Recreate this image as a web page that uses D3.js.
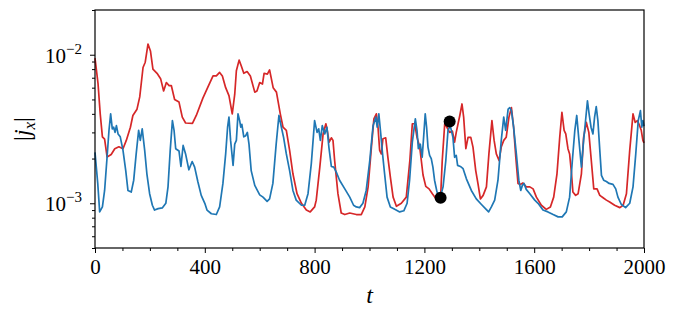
<!DOCTYPE html>
<meta charset="utf-8">
<script src="https://d3js.org/d3.v7.min.js"></script>
<style>
body { margin: 0; background: #fff; }
.spine { fill: none; stroke: #000; stroke-width: 1.2px; }
.tick line { stroke: #000; stroke-width: 1px; }
.series { fill: none; stroke-width: 1.7px; stroke-linejoin: round; }
</style>
<body>
<script>

// [t, |j_x|]
var redSeries = [[0,9.5e-3],[11,6.4e-3],[19,4.0e-3],[27,2.8e-3],[35,2.7e-3],[44,2.05e-3],[59,2.13e-3],[72,2.33e-3],[87,2.4e-3],[102,2.33e-3],[114,2.65e-3],[129,3.25e-3],[138,3.9e-3],[153,4.3e-3],[163,5.2e-3],[175,8.2e-3],[183,8.9e-3],[193,1.18e-2],[202,1.06e-2],[211,8.0e-3],[226,7.5e-3],[239,6.9e-3],[250,5.7e-3],[260,6.5e-3],[270,6.2e-3],[278,6.2e-3],[290,5.0e-3],[306,4.8e-3],[318,3.8e-3],[330,3.47e-3],[355,3.45e-3],[369,3.9e-3],[393,5.1e-3],[412,6.1e-3],[430,7.2e-3],[442,7.2e-3],[454,7.6e-3],[464,7.2e-3],[476,6.0e-3],[488,5.3e-3],[500,4.0e-3],[509,5.4e-3],[515,7.8e-3],[525,9.2e-3],[533,8.4e-3],[542,7.5e-3],[554,7.7e-3],[566,7.2e-3],[582,5.6e-3],[590,5.7e-3],[600,6.5e-3],[610,6.35e-3],[616,7.5e-3],[628,7.4e-3],[636,7.9e-3],[649,6.0e-3],[661,5.6e-3],[675,4.0e-3],[685,3.25e-3],[697,3.1e-3],[709,2.27e-3],[721,1.58e-3],[736,1.16e-3],[752,1.0e-3],[770,9.0e-4],[784,8.75e-4],[800,9.45e-4],[806,1.05e-3],[819,1.75e-3],[831,2.93e-3],[841,3.43e-3],[846,3.1e-3],[853,2.58e-3],[861,2.76e-3],[867,2.65e-3],[873,1.94e-3],[885,1.16e-3],[897,8.6e-4],[910,8.4e-4],[928,8.6e-4],[952,8.4e-4],[970,8.4e-4],[983,9.45e-4],[995,1.29e-3],[1007,2.39e-3],[1016,3.7e-3],[1025,4.0e-3],[1031,3.25e-3],[1037,2.27e-3],[1043,2.15e-3],[1049,2.72e-3],[1059,2.76e-3],[1067,2.04e-3],[1076,1.5e-3],[1086,1.1e-3],[1098,9.55e-4],[1116,1.0e-3],[1134,1.1e-3],[1147,1.94e-3],[1156,3.43e-3],[1165,3.43e-3],[1173,2.78e-3],[1183,2.39e-3],[1195,1.55e-3],[1205,1.3e-3],[1217,1.25e-3],[1229,1.16e-3],[1243,1.07e-3],[1259,1.09e-3],[1265,1.94e-3],[1274,3.43e-3],[1282,3.25e-3],[1292,3.0e-3],[1302,3.06e-3],[1310,2.58e-3],[1316,3.0e-3],[1329,3.9e-3],[1337,4.66e-3],[1343,3.8e-3],[1351,2.33e-3],[1359,2.78e-3],[1369,2.78e-3],[1377,2.39e-3],[1387,1.66e-3],[1395,1.36e-3],[1404,1.07e-3],[1414,1.13e-3],[1426,1.29e-3],[1435,2.15e-3],[1446,3.6e-3],[1454,2.65e-3],[1462,2.15e-3],[1472,1.94e-3],[1480,2.39e-3],[1489,2.65e-3],[1498,2.78e-3],[1508,3.8e-3],[1517,4.4e-3],[1525,3.25e-3],[1533,2.04e-3],[1541,1.36e-3],[1549,1.34e-3],[1559,1.37e-3],[1571,1.29e-3],[1584,1.29e-3],[1596,1.25e-3],[1608,1.1e-3],[1626,9.7e-4],[1644,9.1e-4],[1659,9.45e-4],[1671,1.1e-3],[1683,1.58e-3],[1693,2.78e-3],[1701,4.1e-3],[1709,3.1e-3],[1715,2.93e-3],[1723,2.33e-3],[1729,2.15e-3],[1735,1.66e-3],[1741,1.19e-3],[1751,1.13e-3],[1760,1.16e-3],[1772,1.58e-3],[1780,2.78e-3],[1790,3.5e-3],[1799,3.0e-3],[1808,1.94e-3],[1817,1.25e-3],[1829,1.25e-3],[1839,1.13e-3],[1851,1.09e-3],[1863,1.05e-3],[1875,1.02e-3],[1893,9.7e-4],[1912,9.35e-4],[1924,9.7e-4],[1936,1.16e-3],[1948,2.27e-3],[1960,4.0e-3],[1968,3.5e-3],[1976,3.6e-3],[1984,3.33e-3],[1990,3.1e-3],[1996,2.65e-3],[2000,2.55e-3]];

var blueSeries = [[0,2.2e-3],[10,1.36e-3],[17,8.75e-4],[27,9.45e-4],[35,1.22e-3],[44,2.05e-3],[51,3.1e-3],[57,4.0e-3],[63,3.17e-3],[68,3.25e-3],[73,3.0e-3],[78,3.33e-3],[84,2.93e-3],[92,2.8e-3],[102,2.27e-3],[112,1.66e-3],[120,1.22e-3],[132,1.19e-3],[141,1.43e-3],[150,2.15e-3],[159,3.1e-3],[165,2.65e-3],[172,3.17e-3],[181,2.27e-3],[189,1.58e-3],[199,1.16e-3],[209,9.7e-4],[217,9.0e-4],[230,9.2e-4],[245,9.3e-4],[258,1.0e-3],[266,1.29e-3],[274,2.27e-3],[282,3.6e-3],[288,3.1e-3],[294,2.33e-3],[306,2.25e-3],[313,1.77e-3],[321,2.45e-3],[330,2.15e-3],[342,1.68e-3],[354,1.91e-3],[363,1.75e-3],[375,1.39e-3],[387,1.13e-3],[400,1.0e-3],[408,9.0e-4],[424,8.5e-4],[442,8.4e-4],[454,9.45e-4],[466,1.36e-3],[476,2.15e-3],[483,3.25e-3],[488,3.8e-3],[494,2.65e-3],[503,1.8e-3],[509,2.5e-3],[515,2.65e-3],[521,4.0e-3],[527,3.6e-3],[531,3.25e-3],[535,3.4e-3],[542,2.8e-3],[549,2.85e-3],[555,3.0e-3],[561,2.5e-3],[569,1.66e-3],[582,1.32e-3],[600,1.14e-3],[612,1.1e-3],[627,1.03e-3],[636,1.07e-3],[648,1.36e-3],[660,2.5e-3],[670,3.9e-3],[679,3.25e-3],[687,2.78e-3],[697,2.15e-3],[709,1.66e-3],[721,1.22e-3],[733,1.05e-3],[752,9.7e-4],[764,9.7e-4],[776,1.16e-3],[788,1.85e-3],[800,3.6e-3],[809,3.0e-3],[815,3.17e-3],[821,2.65e-3],[828,3.33e-3],[837,2.93e-3],[845,3.25e-3],[852,2.39e-3],[861,1.77e-3],[870,1.75e-3],[879,1.62e-3],[891,1.43e-3],[910,1.25e-3],[928,1.1e-3],[942,9.7e-4],[952,9.45e-4],[964,9.35e-4],[976,1.0e-3],[988,1.22e-3],[1001,1.94e-3],[1013,3.33e-3],[1023,3.8e-3],[1028,3.25e-3],[1034,4.0e-3],[1041,2.93e-3],[1047,2.2e-3],[1055,1.58e-3],[1064,1.1e-3],[1076,9.45e-4],[1092,9.1e-4],[1110,8.75e-4],[1125,8.9e-4],[1137,1.0e-3],[1146,1.43e-3],[1156,2.58e-3],[1167,3.7e-3],[1173,3.1e-3],[1178,2.33e-3],[1185,2.5e-3],[1192,2.04e-3],[1198,2.93e-3],[1203,4.0e-3],[1208,3.25e-3],[1213,2.39e-3],[1219,2.1e-3],[1225,2.0e-3],[1231,1.75e-3],[1237,1.43e-3],[1246,1.19e-3],[1258,1.1e-3],[1268,1.29e-3],[1278,1.94e-3],[1286,3.1e-3],[1294,3.33e-3],[1304,2.78e-3],[1310,2.04e-3],[1316,2.1e-3],[1321,1.8e-3],[1331,1.77e-3],[1341,1.71e-3],[1353,1.46e-3],[1371,1.22e-3],[1389,1.07e-3],[1407,9.85e-4],[1425,9.1e-4],[1434,8.75e-4],[1444,9.45e-4],[1456,1.05e-3],[1468,1.43e-3],[1480,2.65e-3],[1489,3.8e-3],[1496,3.1e-3],[1505,4.3e-3],[1511,4.4e-3],[1517,4.2e-3],[1525,3.25e-3],[1535,2.15e-3],[1544,1.43e-3],[1551,1.22e-3],[1557,1.32e-3],[1563,1.36e-3],[1571,1.24e-3],[1584,1.16e-3],[1602,1.05e-3],[1614,1.0e-3],[1632,9.0e-4],[1650,8.75e-4],[1669,8.4e-4],[1687,8.1e-4],[1702,8.1e-4],[1717,8.75e-4],[1729,1.1e-3],[1739,1.94e-3],[1748,3.1e-3],[1755,3.9e-3],[1762,2.78e-3],[1772,1.75e-3],[1780,2.65e-3],[1786,3.43e-3],[1794,4.9e-3],[1800,4.0e-3],[1807,3.25e-3],[1814,2.93e-3],[1820,3.8e-3],[1826,4.47e-3],[1832,3.6e-3],[1839,2.27e-3],[1845,1.54e-3],[1853,1.43e-3],[1863,1.4e-3],[1873,1.36e-3],[1887,1.34e-3],[1897,1.25e-3],[1905,1.1e-3],[1917,9.85e-4],[1933,9.35e-4],[1948,1.0e-3],[1960,1.29e-3],[1970,2.15e-3],[1979,3.6e-3],[1987,4.2e-3],[1992,3.25e-3],[1996,3.6e-3],[2000,3.3e-3]];

var markedPoints = [[1259, 1.09e-3], [1292, 3.55e-3]];

var xTicks = [0, 400, 800, 1200, 1600, 2000];
var xMinorStep = 100;
var yTicks = [1e-3, 1e-2];
var yTickExponents = ["\u22123", "\u22122"];

var serif = "'Liberation Serif', 'Times New Roman', Times, serif";

var width = 677, height = 318;
var margin = {top: 10, right: 33, bottom: 70, left: 95};

var svg = d3.select("body").append("svg")
    .attr("width", width)
    .attr("height", height);

var x = d3.scaleLinear()
    .domain([0, 2000])
    .range([margin.left, width - margin.right]);

var y = d3.scaleLog()
    .domain([5e-4, 2e-2])
    .range([height - margin.bottom, margin.top]);

var xMinor = d3.range(0, 2001, xMinorStep).filter(function(v) { return xTicks.indexOf(v) == -1; });
var yMinor = y.ticks().filter(function(v) {
    var e = Math.log10(v);
    return Math.abs(e - Math.round(e)) > 1e-6;
});

// x axis
var xAxis = d3.axisBottom(x)
    .tickValues(xTicks)
    .tickSize(5)
    .tickPadding(6)
    .tickFormat(d3.format("d"));

var gx = svg.append("g")
    .attr("transform", "translate(0," + (height - margin.bottom) + ")")
    .call(xAxis)
    .attr("font-family", serif)
    .attr("font-size", 21);
gx.select(".domain").remove();
gx.selectAll("text")
    .attr("fill", "#000")
    .style("font-family", serif)
    .style("font-size", "21px");

var gxm = svg.append("g")
    .attr("transform", "translate(0," + (height - margin.bottom) + ")")
    .call(d3.axisBottom(x).tickValues(xMinor).tickSize(3).tickFormat(""));
gxm.select(".domain").remove();

// y axis
var gy = svg.append("g")
    .attr("transform", "translate(" + margin.left + ",0)")
    .call(d3.axisLeft(y).tickValues(yTicks).tickSize(5).tickFormat(""));
gy.select(".domain").remove();

var gym = svg.append("g")
    .attr("transform", "translate(" + margin.left + ",0)")
    .call(d3.axisLeft(y).tickValues(yMinor).tickSize(3).tickFormat(""));
gym.select(".domain").remove();

var ylab = svg.append("g").selectAll("text")
    .data(yTicks)
    .enter().append("text")
    .attr("x", margin.left - 13)
    .attr("y", function(d) { return y(d) + 8; })
    .attr("text-anchor", "end")
    .style("font-family", serif)
    .style("font-size", "21px");
ylab.append("tspan").text("10");
ylab.append("tspan")
    .attr("dy", -9)
    .style("font-size", "15px")
    .text(function(d, i) { return yTickExponents[i]; });

// lines
var line = d3.line()
    .x(function(d) { return x(d[0]); })
    .y(function(d) { return y(d[1]); });

var plot = svg.append("g");

plot.append("path")
    .datum(redSeries)
    .attr("class", "series")
    .attr("stroke", "#d62728")
    .attr("d", line);

plot.append("path")
    .datum(blueSeries)
    .attr("class", "series")
    .attr("stroke", "#1f77b4")
    .attr("d", line);

plot.selectAll(".dot")
    .data(markedPoints)
    .enter().append("circle")
    .attr("class", "dot")
    .attr("cx", function(d) { return x(d[0]); })
    .attr("cy", function(d) { return y(d[1]); })
    .attr("r", 6)
    .attr("fill", "#000");

// frame
svg.append("rect")
    .attr("class", "spine")
    .attr("x", margin.left)
    .attr("y", margin.top)
    .attr("width", width - margin.left - margin.right)
    .attr("height", height - margin.top - margin.bottom);

// axis labels
svg.append("text")
    .attr("x", (x.range()[0] + x.range()[1]) / 2)
    .attr("y", 303)
    .attr("text-anchor", "middle")
    .style("font-family", serif)
    .style("font-size", "24px")
    .style("font-style", "italic")
    .text("t");

var yl = svg.append("text")
    .attr("transform", "translate(30," + ((y.range()[0] + y.range()[1]) / 2) + ") rotate(-90)")
    .attr("text-anchor", "middle")
    .style("font-family", serif)
    .style("font-size", "24px");
yl.append("tspan").text("|");
yl.append("tspan").style("font-style", "italic").text("j");
yl.append("tspan").attr("dy", 5).style("font-size", "17px").style("font-style", "italic").text("x");
yl.append("tspan").attr("dy", -5).text("|");

</script>
</body>
